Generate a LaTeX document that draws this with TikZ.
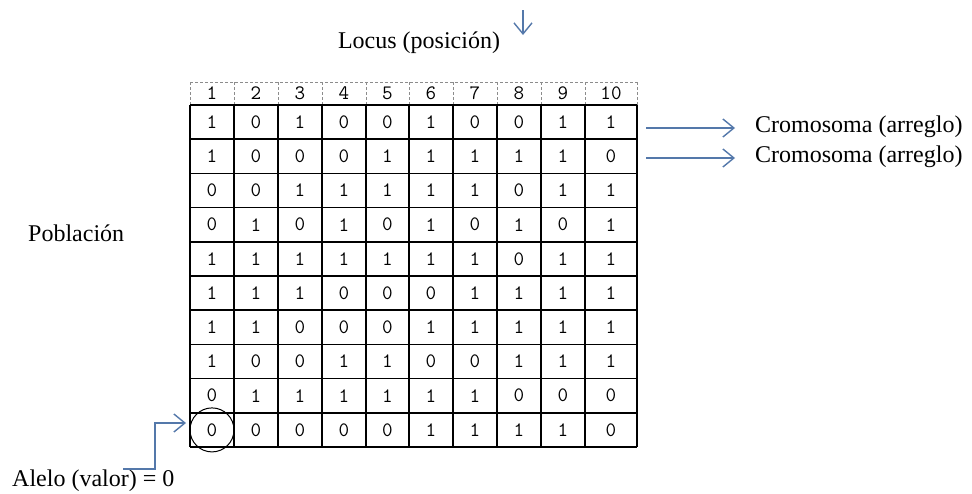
\documentclass[tikz,border=0pt]{standalone}
\usepackage{fontspec}
\setmainfont{Liberation Serif}
\usetikzlibrary{arrows.meta}
\definecolor{arrowblue}{RGB}{84,120,170}
\definecolor{dashgrey}{RGB}{140,140,140}
\begin{document}
\begin{tikzpicture}[x=1pt,y=-1pt,
  lbl/.style={font=\fontsize{24}{28}\selectfont, inner sep=0pt},
  dig/.style={font=\ttfamily\fontsize{20.5}{22}\selectfont, inner sep=0pt},
  garrow/.style={draw=arrowblue, line width=1.4pt, -{Straight Barb[length=11pt,width=18pt]}},
  gridline/.style={draw=black, line width=1.6pt},
  headline/.style={draw=dashgrey, line width=0.9pt, dash pattern=on 3pt off 2pt}
]
\useasboundingbox (0,0) rectangle (972,493);
\fill[white] (0,0) rectangle (972,493);

% header (dashed)
\foreach \xx in {190,234,278,322,366,409,453,497,541,585,637}
  \draw[headline] (\xx,82) -- (\xx,105);
\draw[headline] (190,82) -- (637,82);
\foreach \v [count=\c] in {1,2,3,4,5,6,7,8,9,10} {
  \pgfmathsetmacro\cx{{212,256,300,344,387.5,431,475,519,563,611}[\c-1]}
  \node[dig] (h-\c) at (\cx,93.5) {\v};
}

% grid
\foreach \i in {0,...,10}
  \draw[gridline] (190,105+34.2*\i) -- (637,105+34.2*\i);
\foreach \xx in {190,234,278,322,366,409,453,497,541,585,637}
  \draw[gridline] (\xx,105) -- (\xx,447);

\foreach \row [count=\r] in {
  {1,0,1,0,0,1,0,0,1,1},
  {1,0,0,0,1,1,1,1,1,0},
  {0,0,1,1,1,1,1,0,1,1},
  {0,1,0,1,0,1,0,1,0,1},
  {1,1,1,1,1,1,1,0,1,1},
  {1,1,1,0,0,0,1,1,1,1},
  {1,1,0,0,0,1,1,1,1,1},
  {1,0,0,1,1,0,0,1,1,1},
  {0,1,1,1,1,1,1,0,0,0},
  {0,0,0,0,0,1,1,1,1,0}} {
  \foreach \v [count=\c] in \row {
    \pgfmathsetmacro\cx{{212,256,300,344,387.5,431,475,519,563,611}[\c-1]}
    \pgfmathsetmacro\cy{105+34.2*(\r-0.5)}
    \node[dig] (cell-\r-\c) at (\cx,\cy) {\v};
  }
}

% labels
\node[lbl] (locus) at (419,43) {Locus (posición)};
\coordinate (locustop) at (523,10);
\coordinate (locusbot) at (523,35);
\draw[garrow] (locustop) -- (locusbot);

\node[lbl, anchor=west] (crom1) at (755,127) {Cromosoma (arreglo)};
\node[lbl, anchor=west] (crom2) at (755,157) {Cromosoma (arreglo)};
\coordinate (c1s) at (646,128);
\coordinate (c1e) at (735,128);
\coordinate (c2s) at (646,158);
\coordinate (c2e) at (735,158);
\draw[garrow] (c1s) -- (c1e);
\draw[garrow] (c2s) -- (c2e);

\node[lbl, anchor=west] (pob) at (28,233) {Población};

% allele
\draw[line width=1pt] (cell-10-1) circle[radius=22pt];
\node[lbl, anchor=west] (alelo) at (12,481) {Alelo (valor) = 0};
\coordinate (a0) at (123,469);
\coordinate (a1) at (155,469);
\coordinate (a2) at (155,423);
\coordinate (a3) at (186,423);
\draw[garrow] (a0) -- (a1) -- (a2) -- (a3);
\end{tikzpicture}
\end{document}
